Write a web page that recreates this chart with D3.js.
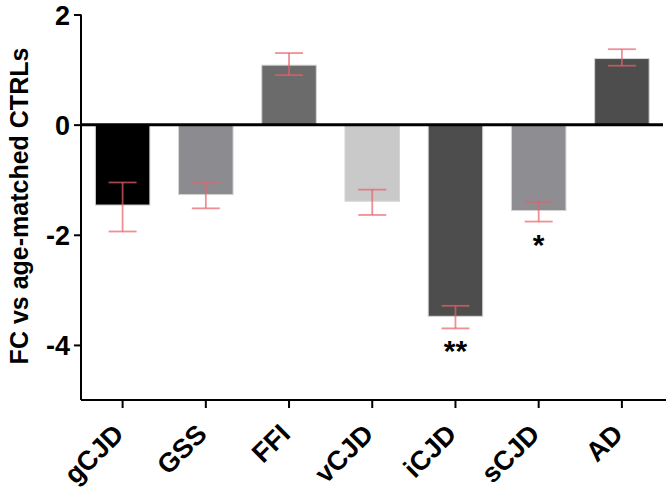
<!DOCTYPE html>
<html><head><meta charset="utf-8">
<script src="https://cdn.jsdelivr.net/npm/d3@7"></script>
<style>body{margin:0;background:#fff}svg{display:block}</style>
</head><body>
<svg id="c" width="666" height="492"></svg>
<script>
const categories = ["gCJD","GSS","FFI","vCJD","iCJD","sCJD","AD"];
const values     = [-1.46, -1.27, 1.08, -1.39, -3.48, -1.56, 1.20];
const errLow     = [-1.94, -1.52, 0.90, -1.64, -3.70, -1.76, 1.07];
const errHigh    = [-1.05, -1.04, 1.30, -1.18, -3.29, -1.40, 1.37];
const barColors  = ["#000000","#8c8c90","#6b6b6b","#c9c9c9","#4d4d4d","#8e8e92","#4d4d4d"];
const stars      = ["","","","","**","*",""];
const yTicks     = [2, 0, -2, -4];
const yTitle     = "FC vs age-matched CTRLs";

const svg = d3.select("#c");
const font = "'Liberation Sans', Arial, sans-serif";
const x = d3.scaleBand().domain(categories).range([81, 663.5]).paddingInner(0.345).paddingOuter(0.1725);
const y = d3.scaleLinear().domain([-5, 2]).range([400, 14.5]);

// bars
svg.selectAll("rect.bar").data(categories).enter().append("rect")
  .attr("x", d => x(d))
  .attr("width", x.bandwidth())
  .attr("y", (d,i) => Math.min(y(values[i]), y(0)))
  .attr("height", (d,i) => Math.abs(y(values[i]) - y(0)))
  .attr("fill", (d,i) => barColors[i])
  .attr("stroke", "#d4d4d4").attr("stroke-width", 1);

// error bars
const eg = svg.append("g").attr("stroke", "#e8606a").attr("stroke-opacity", 0.7).attr("stroke-width", 1.8);
categories.forEach((c,i) => {
  const cx = x(c) + x.bandwidth()/2;
  eg.append("line").attr("x1", cx).attr("x2", cx).attr("y1", y(errLow[i])).attr("y2", y(errHigh[i]));
  eg.append("line").attr("x1", cx-14).attr("x2", cx+14).attr("y1", y(errLow[i])).attr("y2", y(errLow[i]));
  eg.append("line").attr("x1", cx-14).attr("x2", cx+14).attr("y1", y(errHigh[i])).attr("y2", y(errHigh[i]));
});

// significance stars
categories.forEach((c,i) => {
  if (!stars[i]) return;
  svg.append("text").attr("x", x(c) + x.bandwidth()/2).attr("y", y(errLow[i]) + 33)
    .attr("text-anchor","middle").attr("font-family", font).attr("font-weight","bold")
    .attr("font-size", 30).attr("fill","#000").text(stars[i]);
});

// zero line
svg.append("line").attr("x1", 81).attr("x2", 663).attr("y1", y(0)).attr("y2", y(0))
  .attr("stroke","#000").attr("stroke-width", 3);

// y axis
const yAxis = svg.append("g").attr("transform","translate(81,0)")
  .call(d3.axisLeft(y).tickValues(yTicks).tickSize(7).tickPadding(4).tickFormat(d3.format("d")));
yAxis.select(".domain").attr("stroke","#000").attr("stroke-width",2).attr("d", `M0,${y(2)}V${y(-5)}`);
yAxis.selectAll(".tick line").attr("stroke","#000").attr("stroke-width",2);
yAxis.selectAll(".tick text").attr("font-family", font).attr("font-weight","bold").attr("font-size",27).attr("fill","#000")
  .attr("dy","0.36em").text(d => d < 0 ? "-" + Math.abs(d) : d);

// x axis
const xAxis = svg.append("g").attr("transform", `translate(0,${y(-5)})`)
  .call(d3.axisBottom(x).tickSize(8).tickSizeOuter(0));
xAxis.select(".domain").attr("stroke","#000").attr("stroke-width",2).attr("d","M81,0H666");
xAxis.selectAll(".tick line").attr("stroke","#000").attr("stroke-width",2);
xAxis.selectAll(".tick text").attr("font-family", font).attr("font-weight","bold").attr("font-size",27).attr("fill","#000")
  .attr("text-anchor","end").attr("dy","0.35em")
  .attr("transform","translate(-4,29) rotate(-45)").attr("y",0).attr("x",0);

// y title
svg.append("text").attr("transform", `translate(28,206) rotate(-90)`)
  .attr("text-anchor","middle").attr("font-family", font).attr("font-weight","bold")
  .attr("font-size", 25).attr("fill","#000").text(yTitle);
</script>
</body></html>
